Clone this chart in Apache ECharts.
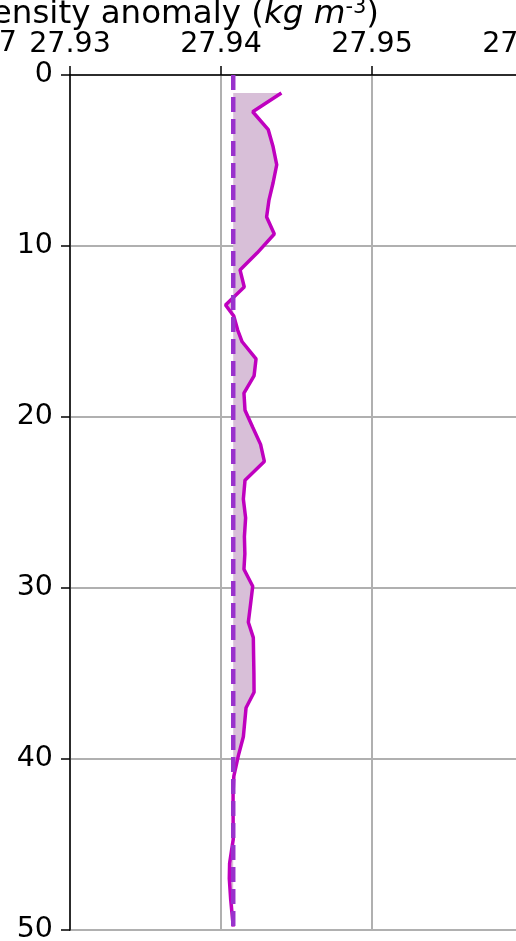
<!DOCTYPE html>
<html>
<head>
<meta charset="utf-8">
<script src="https://cdn.jsdelivr.net/npm/echarts@6/dist/echarts.min.js"></script>
<style>
  html, body { margin: 0; padding: 0; background: #fff; }
  #chart { width: 516px; height: 941px; }
</style>
</head>
<body>
<div id="chart"></div>
<script>
// 深度 (m) 与密度异常值
const depths = [1.05, 2.15, 3.2, 4.2, 5.25, 6.3, 7.3, 8.3, 9.3, 10.4,
  11.4, 12.4, 13.45, 14.1, 14.9, 15.6, 16.6, 17.6, 18.6, 19.6,
  20.6, 21.6, 22.6, 23.7, 24.8, 25.9, 27.0, 28.0, 28.9, 29.9,
  31.0, 32.0, 32.9, 34.0, 35.0, 36.1, 37.0, 38.7, 39.8, 41.0,
  42.0, 43.0, 44.7, 46.1, 47.0, 48.2, 49.8];
const densities = [27.94400, 27.94210, 27.94313, 27.94345, 27.94369, 27.94345, 27.94318, 27.94302, 27.94353, 27.94240,
  27.94126, 27.94154, 27.94030, 27.94085, 27.94110, 27.94140, 27.94232, 27.94219, 27.94152, 27.94159,
  27.94210, 27.94262, 27.94287, 27.94159, 27.94148, 27.94163, 27.94155, 27.94158, 27.94152, 27.94210,
  27.94195, 27.94181, 27.94214, 27.94216, 27.94218, 27.94219, 27.94166, 27.94148, 27.94115, 27.94085,
  27.94080, 27.94080, 27.94081, 27.94057, 27.94055, 27.94064, 27.94081];
const meanDensity = 27.94081;
const xTicks = [27.93, 27.94, 27.95, 27.96];
const depthTicks = [0, 10, 20, 30, 40, 50];

const profile = depths.map((d, i) => [densities[i], d]);
const font = 'DejaVu Sans';
const fs = 28.5;
const titleFs = 32.5;

let myChart = echarts.init(document.getElementById('chart'));
myChart.setOption({
  animation: false,
  grid: {
    left: 70, top: 75, width: 453, height: 855,
    outerBoundsMode: 'none', containLabel: false,
    show: true, borderColor: '#000', borderWidth: 1.5
  },
  xAxis: {
    type: 'value', position: 'top',
    min: xTicks[0], max: xTicks[xTicks.length - 1], interval: 0.01,
    axisLine: { show: true, lineStyle: { color: '#000', width: 1.5 } },
    axisTick: { show: true, length: 9, lineStyle: { color: '#000', width: 1.5 } },
    axisLabel: {
      color: '#000', fontFamily: font, fontSize: fs, margin: 16,
      showMinLabel: true, showMaxLabel: true, hideOverlap: false,
      formatter: v => v.toFixed(2)
    },
    splitLine: { show: true, lineStyle: { color: '#b0b0b0', width: 2 } }
  },
  yAxis: {
    type: 'value', inverse: true,
    min: depthTicks[0], max: depthTicks[depthTicks.length - 1], interval: 10,
    axisLine: { show: true, lineStyle: { color: '#000', width: 1.5 } },
    axisTick: { show: true, length: 9, lineStyle: { color: '#000', width: 1.5 } },
    axisLabel: { color: '#000', fontFamily: font, fontSize: fs, margin: 17 },
    splitLine: { show: true, lineStyle: { color: '#b0b0b0', width: 2 } }
  },
  graphic: [
    {
      type: 'text', z: 100,
      style: {
        x: 379, y: 15, align: 'right', verticalAlign: 'middle',
        text: '{n|Density anomaly (}{i|kg m}{s|-3}{n|)}',
        rich: {
          n: { fontFamily: font, fontSize: titleFs, lineHeight: 36, fill: '#000' },
          i: { fontFamily: font, fontSize: titleFs, lineHeight: 36, fontStyle: 'italic', fill: '#000' },
          s: { fontFamily: font, fontSize: 21, lineHeight: 36, verticalAlign: 'top', fill: '#000' }
        }
      }
    },
    {
      type: 'text', z: 100,
      style: { x: 17, y: 44, align: 'right', verticalAlign: 'middle', text: '37',
        fontFamily: font, fontSize: fs, fill: '#000' }
    }
  ],
  series: [
    {
      // 剖面与均值之间的填充
      type: 'custom',
      data: [0],
      z: 1,
      renderItem: function (params, api) {
        const pts = profile.map(p => api.coord(p));
        pts.push(api.coord([meanDensity, depths[depths.length - 1]]));
        pts.push(api.coord([meanDensity, depths[0]]));
        return { type: 'polygon', shape: { points: pts }, style: { fill: '#d8bfd8' } };
      },
      silent: true
    },
    {
      type: 'line', data: profile, z: 2,
      showSymbol: false, symbol: 'none',
      lineStyle: { color: '#bf00bf', width: 3.5 }
    },
    {
      type: 'line', data: [[meanDensity, 0], [meanDensity, 50]], z: 3,
      showSymbol: false, symbol: 'none',
      lineStyle: { color: '#9932cc', width: 4.5, type: [15, 7] }
    }
  ]
});
</script>
</body>
</html>
